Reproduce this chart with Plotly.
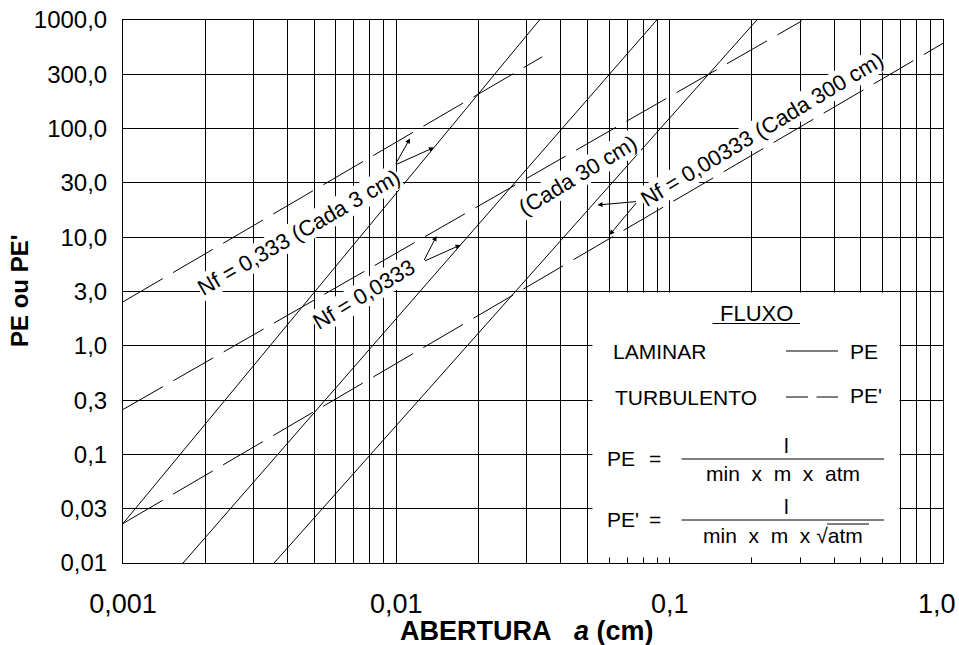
import plotly.graph_objects as go

# ---------------- data ----------------
series_nf = ["0,333", "0,0333", "0,00333"]
# laminar flow (PE) lines: endpoints  (a in cm, PE)
lam_a0 = [0.001, 0.001658, 0.00357]
lam_a1 = [0.0334, 0.0897, 0.2084]
lam_pe0 = [0.0231, 0.01, 0.01]
lam_pe1 = [1000, 1000, 1000]
# turbulent flow (PE') lines: endpoints
tur_a0 = [0.001, 0.001, 0.001]
tur_a1 = [0.0342, 0.304, 1.0]
tur_pe0 = [2.54, 0.259, 0.0231]
tur_pe1 = [459, 979, 610]

x_tick_vals = [0.001, 0.01, 0.1, 1.0]
x_tick_text = ["0,001", "0,01", "0,1", "1,0"]
x_minor_vals = [m * d for d in (0.001, 0.01, 0.1) for m in (2, 3, 4, 5, 6, 7, 8, 9)]
y_tick_vals = [0.01, 0.0316, 0.1, 0.316, 1.0, 3.16, 10, 31.6, 100, 316, 1000]
y_tick_text = ["0,01", "0,03", "0,1", "0,3", "1,0", "3,0", "10,0", "30,0", "100,0", "300,0", "1000,0"]

FONT = "Liberation Sans, Arial, sans-serif"
W, H = 959, 645
ML, MR, MT, MB = 123, 16, 20, 82
PW, PH = W - ML - MR, H - MT - MB


def px(x):
    return (x - ML) / PW


def py(y):
    return (H - MB - y) / PH


fig = go.Figure()
for i in range(3):
    fig.add_trace(go.Scatter(x=[lam_a0[i], lam_a1[i]], y=[lam_pe0[i], lam_pe1[i]],
                             mode="lines", line=dict(color="black", width=1),
                             name="Laminar Nf=" + series_nf[i], showlegend=False,
                             hoverinfo="skip"))
    fig.add_trace(go.Scatter(x=[tur_a0[i], tur_a1[i]], y=[tur_pe0[i], tur_pe1[i]],
                             mode="lines", line=dict(color="black", width=1, dash="46px,12px"),
                             name="Turbulento Nf=" + series_nf[i], showlegend=False,
                             hoverinfo="skip"))

shapes = []
# legend box (white, covering the grid; bottom grid stubs remain as ticks)
shapes.append(dict(type="rect", xref="paper", yref="paper", x0=px(592.5), x1=px(899.5),
                   y0=py(557.5), y1=py(292.5), fillcolor="white",
                   line=dict(width=0), layer="above"))
# FLUXO underline
shapes.append(dict(type="line", xref="paper", yref="paper", x0=px(712.5), x1=px(800),
                   y0=py(323.5), y1=py(323.5), line=dict(color="black", width=1)))
# legend samples
shapes.append(dict(type="line", xref="paper", yref="paper", x0=px(786), x1=px(838),
                   y0=py(351), y1=py(351), line=dict(color="black", width=1)))
shapes.append(dict(type="line", xref="paper", yref="paper", x0=px(786), x1=px(808),
                   y0=py(397), y1=py(397), line=dict(color="black", width=1)))
shapes.append(dict(type="line", xref="paper", yref="paper", x0=px(816.5), x1=px(838),
                   y0=py(397), y1=py(397), line=dict(color="black", width=1)))
# fraction bars
for yy in (459, 520):
    shapes.append(dict(type="line", xref="paper", yref="paper", x0=px(681.5), x1=px(884),
                       y0=py(yy), y1=py(yy), line=dict(color="black", width=1)))
# sqrt overline
shapes.append(dict(type="line", xref="paper", yref="paper", x0=px(827), x1=px(869),
                   y0=py(524), y1=py(524), line=dict(color="black", width=1)))

ann = []


def txt(x, y, s, size=21, xanchor="center", angle=0, bg=None):
    d = dict(x=px(x), y=py(y), xref="paper", yref="paper", text=s, showarrow=False,
             xanchor=xanchor, yanchor="middle", textangle=angle,
             font=dict(family=FONT, size=size, color="black"))
    if bg:
        d.update(bgcolor=bg, borderpad=0)
    ann.append(d)


NB = "\u00a0"
# rotated line labels
txt(298.5, 232, "Nf = 0,333 (Cada 3 cm)", size=22, angle=-30, bg="white")
txt(364, 295, "Nf = 0,0333", size=22, angle=-31, bg="white")
txt(577.5, 175, "(Cada 30 cm)", size=22, angle=-31, bg="white")
txt(762, 129.5, "Nf = 0,00333 (Cada 300 cm)", size=22, angle=-31, bg="white")

# legend content
txt(756.5, 313, "FLUXO", size=22)
txt(610.5, 351, "LAMINAR", xanchor="left")
txt(848, 351, "PE", xanchor="left")
txt(612.5, 397, "TURBULENTO", xanchor="left")
txt(848, 395, "PE'", xanchor="left")
txt(605, 458.5, "PE", xanchor="left")
txt(655, 458.5, "=")
txt(786, 445, "l")
txt(783, 473, "min" + NB * 2 + "x" + NB * 2 + "m" + NB * 2 + "x" + NB * 2 + "atm")
txt(605, 519.5, "PE'", xanchor="left")
txt(655, 519.5, "=")
txt(786, 506.5, "l")
txt(783, 535, "min" + NB * 2 + "x" + NB * 2 + "m" + NB * 2 + "x" + NB + "\u221aatm")

# last x tick label, kept inside the page (right-aligned at the edge)
txt(958, 604, x_tick_text[-1], size=27, xanchor="right")

# axis titles
ann.append(dict(x=px(527), y=py(631), xref="paper", yref="paper", showarrow=False,
                text="<b>ABERTURA" + NB * 3 + "<i>a</i> (cm)</b>", xanchor="center", yanchor="middle",
                font=dict(family=FONT, size=27, color="black")))
ann.append(dict(x=px(20), y=py(291), xref="paper", yref="paper", showarrow=False,
                text="<b>PE ou PE'</b>", textangle=-90, xanchor="center", yanchor="middle",
                font=dict(family=FONT, size=24, color="black")))

# pointer arrows
arrows = [((395, 165), (410, 138.5)), ((395, 165), (434, 147.5)),
          ((423.5, 261.5), (436.5, 236)), ((423.5, 261.5), (460.5, 245)),
          ((637.5, 201.5), (597.5, 205)), ((637.5, 201.5), (609.5, 235))]
for (tx, ty), (hx, hy) in arrows:
    ann.append(dict(x=px(hx), y=py(hy), xref="paper", yref="paper", text="",
                    showarrow=True, ax=tx - hx, ay=ty - hy, axref="pixel", ayref="pixel",
                    arrowhead=2, arrowsize=1, arrowwidth=1, arrowcolor="black",
                    standoff=0, startstandoff=0))

fig.update_layout(
    width=W, height=H, margin=dict(l=ML, r=MR, t=MT, b=MB, pad=0, autoexpand=False),
    paper_bgcolor="white", plot_bgcolor="white", showlegend=False,
    shapes=shapes, annotations=ann,
    font=dict(family=FONT, color="black"),
    xaxis=dict(type="log", range=[-3, 0], tickvals=x_tick_vals,
               ticktext=x_tick_text[:-1] + [""],
               showgrid=True, gridcolor="black", gridwidth=1,
               ticks="inside", ticklen=5, tickcolor="black", tickwidth=1,
               minor=dict(tickvals=x_minor_vals, showgrid=True, gridcolor="black", gridwidth=1,
                          ticks="inside", ticklen=5, tickcolor="black", tickwidth=1),
               showline=True, linecolor="black", linewidth=1, mirror=True,
               tickfont=dict(family=FONT, size=27, color="black"), ticklabelstandoff=17,
               ticklabeloverflow="allow", automargin=False, zeroline=False, fixedrange=True),
    yaxis=dict(type="log", range=[-2, 3], tickvals=y_tick_vals, ticktext=y_tick_text,
               showgrid=True, gridcolor="black", gridwidth=1,
               ticks="", showline=True, linecolor="black", linewidth=1, mirror=True,
               tickfont=dict(family=FONT, size=24, color="black"), ticklabelstandoff=10,
               ticklabeloverflow="allow", automargin=False, zeroline=False, fixedrange=True),
)

fig.write_html("out.html", config={"displayModeBar": False})
